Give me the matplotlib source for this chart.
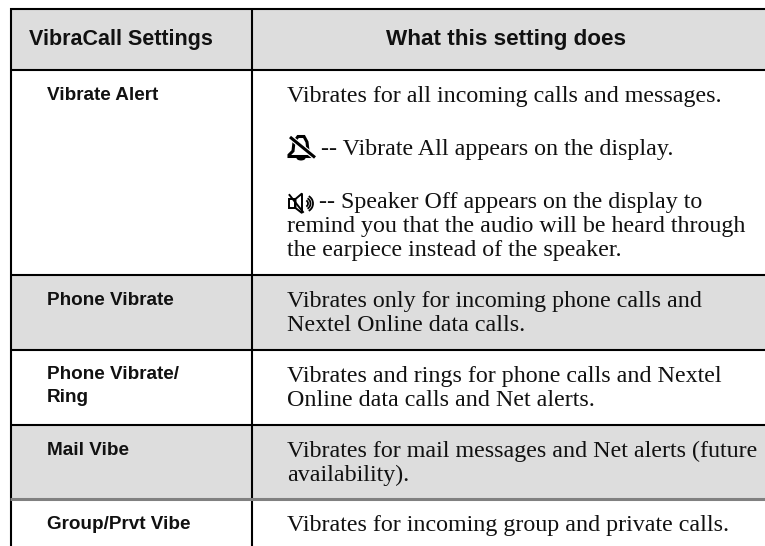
import matplotlib
matplotlib.use("Agg")
import matplotlib.pyplot as plt
from matplotlib.patches import Arc, Ellipse, Polygon, Rectangle

header_labels = ["VibraCall Settings", "What this setting does"]
setting_labels = ["Vibrate Alert", "Phone Vibrate", "Phone Vibrate/\nRing", "Mail Vibe", "Group/Prvt Vibe"]
description_lines = [
    ["Vibrates for all incoming calls and messages."],
    ["Vibrates only for incoming phone calls and", "Nextel Online data calls."],
    ["Vibrates and rings for phone calls and Nextel", "Online data calls and Net alerts."],
    ["Vibrates for mail messages and Net alerts (future", "availability)."],
    ["Vibrates for incoming group and private calls."],
]
vibrate_all_note = "-- Vibrate All appears on the display."
speaker_off_note = "-- Speaker Off appears on the display to"
speaker_off_more = ["remind you that the audio will be heard through", "the earpiece instead of the speaker."]

W, H = 765, 546
LEFT, MID = 11, 252
ROW_EDGES = [9, 69.7, 275, 349.7, 424.7, 499.3, 546]
ROW_SHADED = [True, False, True, False, True, False]
LABEL_BASE = [100, 305, 379, 455, 529]
DESC_BASE = [101.7, 306.7, 381.7, 456.7, 530.7]
LINE_GAP = 24.2
BODY_SIZE = 17.3
GREY = "#dddddd"
INK = "#111111"
SERIF = "Liberation Serif"
SANS = "Liberation Sans"

fig = plt.figure(figsize=(W / 100, H / 100), dpi=100)
ax = fig.add_axes([0, 0, 1, 1])
ax.set_xlim(0, W)
ax.set_ylim(H, 0)
ax.axis("off")

# shaded rows
for i, shaded in enumerate(ROW_SHADED):
    if shaded:
        ax.add_patch(Rectangle((LEFT, ROW_EDGES[i]), W - LEFT, ROW_EDGES[i + 1] - ROW_EDGES[i], fc=GREY, ec="none"))

# rules
for i, y in enumerate(ROW_EDGES[:-1]):
    is_grey = i == 5
    ax.plot([LEFT - 1, W], [y, y], color="#808080" if is_grey else "black",
            lw=2.2 if is_grey else 1.5, solid_capstyle="butt", zorder=3)
for x in (LEFT, MID):
    ax.plot([x, x], [ROW_EDGES[0] - 1, H], color="black", lw=1.5, solid_capstyle="butt", zorder=2)

# header
ax.text(29.5, 45.5, header_labels[0], family=SANS, weight="bold", fontsize=15.5, color=INK, va="baseline")
ax.text(506.5, 45.5, header_labels[1], family=SANS, weight="bold", fontsize=16.2, color=INK, va="baseline", ha="center")

# left column
for label, base in zip(setting_labels, LABEL_BASE):
    for k, part in enumerate(label.split("\n")):
        ax.text(47, base + k * 22.7, part, family=SANS, weight="bold", fontsize=13.6, color=INK, va="baseline")

# right column
for lines, base in zip(description_lines, DESC_BASE):
    for k, line in enumerate(lines):
        ax.text(287, base + k * LINE_GAP, line, family=SERIF, fontsize=BODY_SIZE, color=INK, va="baseline")

ax.text(321.5, 155, vibrate_all_note, family=SERIF, fontsize=BODY_SIZE, color=INK, va="baseline")
ax.text(319.5, 208, speaker_off_note, family=SERIF, fontsize=BODY_SIZE, color=INK, va="baseline")
for k, line in enumerate(speaker_off_more):
    ax.text(287, 232 + k * LINE_GAP, line, family=SERIF, fontsize=BODY_SIZE, color=INK, va="baseline")

# bell icon with slash
ax.add_patch(Polygon([(289, 155), (293, 151), (294, 142), (298, 136.5), (304, 136.5), (307, 142),
                      (308, 151), (311, 155), (311, 156.5), (289, 156.5)],
                     closed=True, fc="white", ec="black", lw=2.2, zorder=4))
ax.add_patch(Ellipse((301, 158), 9, 5, fc="black", ec="none", zorder=4))
ax.plot([290, 315], [137, 157.5], color="white", lw=3.8, zorder=5, solid_capstyle="butt")
ax.plot([290, 315], [137, 157.5], color="black", lw=2.2, zorder=6, solid_capstyle="butt")

# speaker icon with waves
ax.add_patch(Rectangle((289.5, 199), 6, 9, fc="white", ec="black", lw=1.4, zorder=4))
ax.add_patch(Polygon([(295.5, 199), (302, 193.5), (302, 213), (295.5, 208)],
                     closed=True, fc="white", ec="black", lw=1.4, zorder=4))
ax.plot([289.5, 303], [195, 212], color="black", lw=1.4, zorder=5)
for r in (3.5, 6, 8.5):
    ax.add_patch(Arc((304.5, 203.5), r * 2, r * 2, theta1=-60, theta2=60, ec="black", lw=1.3, zorder=4))

fig.savefig("out.png", dpi=100, facecolor="white")
